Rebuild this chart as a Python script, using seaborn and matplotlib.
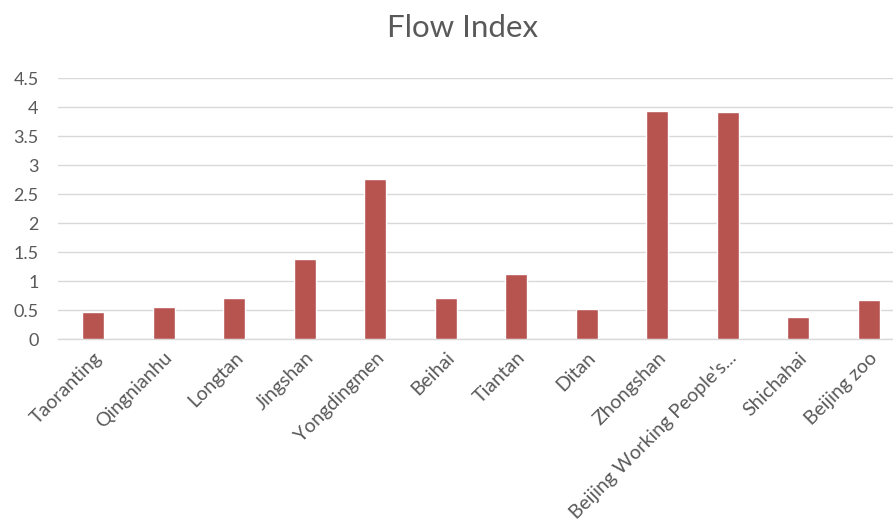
import matplotlib
matplotlib.use("Agg")
import matplotlib.pyplot as plt
import seaborn as sns
import pandas as pd

sites = ["Taoranting", "Qingnianhu", "Longtan", "Jingshan", "Yongdingmen", "Beihai",
         "Tiantan", "Ditan", "Zhongshan", "Beijing Working People's...", "Shichahai",
         "Beijing zoo"]
flow_index = [0.47, 0.56, 0.71, 1.39, 2.76, 0.72, 1.13, 0.52, 3.93, 3.92, 0.39, 0.68]
y_ticks = [0, 0.5, 1, 1.5, 2, 2.5, 3, 3.5, 4, 4.5]
y_tick_labels = ["0", "0.5", "1", "1.5", "2", "2.5", "3", "3.5", "4", "4.5"]

df = pd.DataFrame({"site": sites, "value": flow_index})

sns.set_theme(style="white")
plt.rcParams["font.family"] = ["Lato", "DejaVu Sans"]

W, H = 893, 528
fig = plt.figure(figsize=(W / 100, H / 100), dpi=100)
left, right, top, bottom = 58, 904, 78.3, 339.3
ax = fig.add_axes([left / W, 1 - bottom / H, (right - left) / W, (bottom - top) / H])

sns.barplot(data=df, x="site", y="value", color="#B85450", saturation=1,
            width=0.31, ax=ax, zorder=3)

ax.set_ylim(0, 4.5)
ax.set_xlim(-0.5, len(sites) - 0.5)
ax.set_yticks(y_ticks)
ax.set_yticklabels(y_tick_labels)
ax.yaxis.grid(True, color="#D9D9D9", linewidth=1.0, zorder=0)
ax.set_axisbelow(True)
for s in ["top", "right", "left"]:
    ax.spines[s].set_visible(False)
ax.spines["bottom"].set_color("#D9D9D9")
ax.spines["bottom"].set_linewidth(1.0)

ax.set_xlabel("")
ax.set_ylabel("")
ax.tick_params(axis="both", length=0, colors="#595959")
ax.tick_params(axis="y", pad=14, labelsize=13)
ax.tick_params(axis="x", pad=7, labelsize=14)
for lbl in ax.get_xticklabels():
    lbl.set_rotation(45)
    lbl.set_ha("right")
    lbl.set_rotation_mode("anchor")
for lbl in ax.get_yticklabels():
    lbl.set_ha("right")

fig.text(463 / W, 1 - 28 / H, "Flow Index", ha="center", va="center",
         fontsize=22.5, color="#595959")

fig.savefig("out.png", dpi=100, facecolor="white")
